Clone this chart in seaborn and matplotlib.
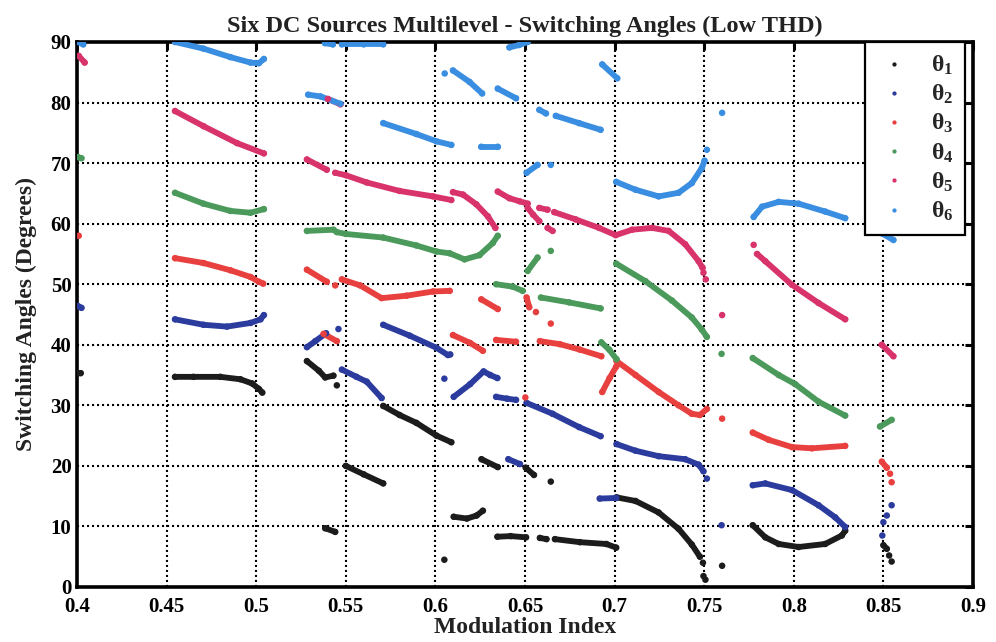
import matplotlib
matplotlib.use("Agg")
import matplotlib.pyplot as plt
import seaborn as sns
import pandas as pd

# Switching angles (degrees) versus modulation index, one list of traces per angle.
# Each trace is a run of solutions that the solver found next to each other.
theta1 = [
    [(0.4005, 35.3), (0.4020, 35.3)],
    [(0.4547, 34.7), (0.4650, 34.7), (0.4800, 34.7), (0.4912, 34.3), (0.4978, 33.6), (0.5015, 32.7), (0.5034, 32.1)],
    [(0.5283, 37.3), (0.5350, 35.7), (0.5385, 34.6), (0.5431, 34.9)],
    [(0.5450, 33.3)],
    [(0.5385, 9.7), (0.5441, 9.1)],
    [(0.5500, 20.0), (0.5600, 18.6), (0.5709, 17.1)],
    [(0.5709, 29.9), (0.5800, 28.4), (0.5894, 27.1), (0.6006, 25.0), (0.6089, 23.9)],
    [(0.6050, 4.5)],
    [(0.6102, 11.6), (0.6176, 11.3), (0.6230, 11.8), (0.6265, 12.6)],
    [(0.6257, 21.1), (0.6348, 19.8)],
    [(0.6504, 19.7), (0.6550, 18.5)],
    [(0.6644, 17.4)],
    [(0.6346, 8.3), (0.6420, 8.4), (0.6506, 8.2)],
    [(0.6583, 8.1), (0.6620, 7.9)],
    [(0.6667, 7.9), (0.6806, 7.4), (0.6954, 7.1), (0.7009, 6.5)],
    [(0.7011, 14.8), (0.7117, 14.2), (0.7246, 12.3), (0.7357, 9.6), (0.7431, 7.0), (0.7476, 5.0)],
    [(0.7493, 4.0)], [(0.7496, 1.8)], [(0.7507, 1.2)],
    [(0.7600, 3.5)],
    [(0.7771, 10.2), (0.7841, 8.2), (0.7916, 7.1), (0.8027, 6.6), (0.8175, 7.1), (0.8268, 8.5), (0.8287, 9.3)],
    [(0.8500, 6.9), (0.8519, 6.3)], [(0.8532, 5.2)], [(0.8546, 4.2)],
]

theta2 = [
    [(0.4005, 46.4), (0.4025, 46.1)],
    [(0.4547, 44.2), (0.4706, 43.3), (0.4837, 43.0), (0.4968, 43.6), (0.5024, 44.2), (0.5043, 44.9)],
    [(0.5283, 39.6), (0.5330, 40.6), (0.5390, 41.9)],
    [(0.5459, 42.6)],
    [(0.5478, 35.9), (0.5560, 34.7), (0.5617, 33.9), (0.5700, 31.2)],
    [(0.5709, 43.3), (0.5857, 41.5), (0.6006, 39.5), (0.6070, 38.3), (0.6083, 38.4)],
    [(0.6050, 34.4)],
    [(0.6102, 31.4), (0.6194, 33.5), (0.6269, 35.6), (0.6306, 35.0), (0.6346, 34.5)],
    [(0.6339, 31.4), (0.6400, 31.1), (0.6450, 30.9)],
    [(0.6407, 21.1), (0.6472, 20.3)],
    [(0.6509, 30.4), (0.6654, 28.6), (0.6802, 26.4), (0.6922, 24.9)],
    [(0.6917, 14.6), (0.7009, 14.7)],
    [(0.7011, 23.6), (0.7117, 22.5), (0.7246, 21.6), (0.7394, 21.1), (0.7469, 20.2), (0.7496, 19.1)],
    [(0.7515, 17.9)],
    [(0.7597, 10.2)],
    [(0.7771, 16.8), (0.7841, 17.1), (0.7990, 16.0), (0.8138, 13.5), (0.8231, 11.5), (0.8287, 9.9)],
    [(0.8494, 8.5)], [(0.8500, 10.7)], [(0.8519, 11.8)], [(0.8546, 13.5)],
]

theta3 = [
    [(0.4010, 58.0)],
    [(0.4547, 54.3), (0.4706, 53.5), (0.4856, 52.3), (0.4968, 51.2), (0.5015, 50.4), (0.5039, 50.1)],
    [(0.5283, 52.4), (0.5394, 50.4)],
    [(0.5441, 49.8)],
    [(0.5376, 41.8), (0.5450, 40.6)],
    [(0.5478, 50.8), (0.5580, 49.8), (0.5700, 47.7), (0.5839, 48.1), (0.5987, 48.8), (0.6080, 48.9)],
    [(0.6098, 41.6), (0.6194, 40.3), (0.6265, 39.0)],
    [(0.6256, 47.5), (0.6348, 45.9)],
    [(0.6339, 40.8), (0.6450, 40.5)],
    [(0.6502, 31.3)],
    [(0.6509, 47.8), (0.6524, 46.2)], [(0.6561, 45.4)], [(0.6644, 43.5)],
    [(0.6583, 40.6), (0.6694, 40.1), (0.6806, 39.2), (0.6926, 38.1)],
    [(0.6931, 32.2), (0.6972, 34.5), (0.7009, 36.4)],
    [(0.7011, 37.3), (0.7117, 35.0), (0.7246, 32.2), (0.7357, 30.0), (0.7431, 28.6), (0.7476, 28.4), (0.7515, 29.4)],
    [(0.7600, 27.8)],
    [(0.7771, 25.5), (0.7860, 24.3), (0.7990, 23.1), (0.8101, 22.9), (0.8287, 23.3)],
    [(0.8491, 20.7), (0.8519, 19.7)], [(0.8537, 18.7)], [(0.8546, 17.3)],
]

theta4 = [
    [(0.4005, 71.0), (0.4025, 70.8)],
    [(0.4547, 65.1), (0.4706, 63.3), (0.4856, 62.1), (0.4968, 61.8), (0.5043, 62.4)],
    [(0.5283, 58.8), (0.5431, 59.0), (0.5450, 58.6), (0.5500, 58.3), (0.5709, 57.7), (0.5894, 56.4),
     (0.6006, 55.4), (0.6080, 55.1), (0.6163, 54.1), (0.6246, 54.8), (0.6320, 56.8), (0.6348, 58.0)],
    [(0.6339, 50.0), (0.6431, 49.6), (0.6487, 48.9)],
    [(0.6515, 52.2), (0.6570, 54.4)],
    [(0.6644, 55.5)],
    [(0.6589, 47.8), (0.6746, 47.0), (0.6922, 46.0)],
    [(0.6926, 40.4), (0.6970, 39.2), (0.7011, 37.6)],
    [(0.7009, 53.4), (0.7172, 50.5), (0.7320, 47.3), (0.7431, 44.5), (0.7487, 42.5), (0.7515, 41.3)],
    [(0.7597, 38.5)],
    [(0.7771, 37.8), (0.7916, 35.0), (0.8008, 33.5), (0.8138, 30.6), (0.8287, 28.3)],
    [(0.8481, 26.5), (0.8546, 27.6)],
]

theta5 = [
    [(0.4010, 87.7), (0.4043, 86.6)],
    [(0.4547, 78.6), (0.4706, 76.1), (0.4893, 73.3), (0.5043, 71.6)],
    [(0.5283, 70.6), (0.5394, 68.9)],
    [(0.5400, 80.6), (0.5470, 79.7)],
    [(0.5441, 68.4), (0.5500, 68.0), (0.5617, 66.8), (0.5800, 65.4), (0.5987, 64.5), (0.6089, 63.9)],
    [(0.6098, 65.2), (0.6154, 64.8), (0.6228, 63.2), (0.6293, 61.2), (0.6335, 59.3)],
    [(0.6348, 65.3), (0.6413, 64.2), (0.6469, 63.7), (0.6515, 63.3)],
    [(0.6515, 62.6), (0.6545, 61.5), (0.6580, 60.4)],
    [(0.6580, 62.6), (0.6626, 62.3)],
    [(0.6626, 59.3), (0.6654, 58.8)],
    [(0.6663, 61.9), (0.6783, 60.7), (0.6913, 59.3), (0.7006, 58.1), (0.7098, 59.0), (0.7209, 59.3),
     (0.7302, 58.8), (0.7394, 56.6), (0.7469, 53.8), (0.7491, 52.7)],
    [(0.7496, 51.9)], [(0.7509, 50.8)],
    [(0.7600, 44.9)],
    [(0.7776, 56.5)],
    [(0.7795, 55.0), (0.7841, 53.8), (0.7990, 49.9), (0.8138, 46.9), (0.8287, 44.2)],
    [(0.8491, 40.0), (0.8556, 38.1)],
]

theta6 = [
    [(0.4005, 90.0), (0.4035, 89.6)],
    [(0.4547, 90.0), (0.4706, 88.9), (0.4856, 87.5), (0.4968, 86.6), (0.5015, 86.5), (0.5043, 87.2)],
    [(0.5290, 81.3), (0.5360, 81.0), (0.5470, 79.8)],
    [(0.5384, 89.8), (0.5428, 89.6)],
    [(0.5478, 89.6), (0.5600, 89.6), (0.5709, 89.6)],
    [(0.5709, 76.6), (0.5894, 74.8), (0.6006, 73.6), (0.6089, 73.0)],
    [(0.6052, 84.8)],
    [(0.6098, 85.3), (0.6191, 83.4), (0.6261, 81.5)],
    [(0.6256, 72.7), (0.6348, 72.7)],
    [(0.6348, 82.3), (0.6450, 80.7)],
    [(0.6413, 89.1), (0.6467, 89.5), (0.6515, 90.0)],
    [(0.6509, 68.4), (0.6570, 69.7)],
    [(0.6644, 69.7)],
    [(0.6580, 78.8), (0.6617, 78.2)],
    [(0.6672, 77.8), (0.6802, 76.6), (0.6922, 75.5)],
    [(0.6931, 86.3), (0.7015, 84.0)],
    [(0.7009, 66.9), (0.7117, 65.6), (0.7246, 64.5), (0.7357, 65.1), (0.7431, 66.7), (0.7487, 69.2), (0.7502, 70.4)],
    [(0.7515, 72.2)],
    [(0.7600, 78.3)],
    [(0.7776, 61.1), (0.7823, 62.8), (0.7916, 63.6), (0.8027, 63.3), (0.8175, 62.0), (0.8287, 60.9)],
    [(0.8491, 58.4), (0.8556, 57.3)],
]

series_labels = [r"$\theta_1$", r"$\theta_2$", r"$\theta_3$", r"$\theta_4$", r"$\theta_5$", r"$\theta_6$"]
series_colors = ["#1c1c1c", "#2b3c9e", "#e8403f", "#4b9a5b", "#d8336b", "#3a8ee2"]
x_ticks = [0.4, 0.45, 0.5, 0.55, 0.6, 0.65, 0.7, 0.75, 0.8, 0.85, 0.9]
x_tick_labels = ["0.4", "0.45", "0.5", "0.55", "0.6", "0.65", "0.7", "0.75", "0.8", "0.85", "0.9"]
y_ticks = [0, 10, 20, 30, 40, 50, 60, 70, 80, 90]

rows = []
for label, traces in zip(series_labels, [theta1, theta2, theta3, theta4, theta5, theta6]):
    for k, trace in enumerate(traces):
        for m, ang in trace:
            rows.append({"series": label, "trace": f"{label}-{k}", "m": m, "angle": ang})
df = pd.DataFrame(rows)

sns.set_theme(style="white")
plt.rcParams["font.family"] = ["Liberation Serif", "DejaVu Serif"]
plt.rcParams["font.weight"] = "bold"
plt.rcParams["mathtext.fontset"] = "custom"
plt.rcParams["mathtext.rm"] = "Liberation Serif:bold"
plt.rcParams["mathtext.it"] = "Liberation Serif:bold"
plt.rcParams["mathtext.bf"] = "Liberation Serif:bold"

fig = plt.figure(figsize=(9.96, 6.42), dpi=100)
ax = fig.add_axes([0.0773, 0.0857, 0.8996, 0.8489])

palette = dict(zip(series_labels, series_colors))

# traces drawn as thick round-capped strokes, every solution point as a dot on top
sns.lineplot(data=df, x="m", y="angle", hue="series", units="trace", estimator=None, sort=False,
             hue_order=series_labels, palette=palette, linewidth=4.2, solid_capstyle="round",
             solid_joinstyle="round", legend=False, ax=ax, zorder=3)
sns.scatterplot(data=df, x="m", y="angle", hue="series", hue_order=series_labels, palette=palette,
                s=22, linewidth=0, ax=ax, zorder=4)

ax.set_xlim(0.4, 0.9)
ax.set_ylim(0, 90)
ax.set_xticks(x_ticks)
ax.set_xticklabels(x_tick_labels)
ax.set_yticks(y_ticks)
ax.grid(True, color="black", linestyle=(0, (1.0, 1.4)), linewidth=1.5, zorder=1)
ax.set_axisbelow(True)
ax.tick_params(axis="both", which="major", direction="in", length=6, width=2.2,
               top=True, right=True, labelsize=15, colors="black")
ax.tick_params(axis="x", pad=7)
ax.tick_params(axis="y", pad=4)
for lab in ax.get_xticklabels() + ax.get_yticklabels():
    lab.set_fontweight("bold")
for side in ["left", "bottom", "top", "right"]:
    ax.spines[side].set_color("black")
    ax.spines[side].set_linewidth(2.6)

ax.set_xlabel("Modulation Index", fontsize=17, fontweight="bold", labelpad=0, color="#222222")
ax.set_ylabel("Switching Angles (Degrees)", fontsize=17, fontweight="bold", labelpad=10, color="#222222")
ax.set_title("Six DC Sources Multilevel - Switching Angles (Low THD)", fontsize=17.5,
             fontweight="bold", pad=7, color="#222222")

handles, labels = ax.get_legend_handles_labels()
leg = ax.legend(handles, labels, loc="upper right", bbox_to_anchor=(0.991, 1.0), borderaxespad=0,
                fontsize=17, frameon=True, fancybox=False, framealpha=1, edgecolor="black",
                markerscale=0.65, handlelength=1.5, handletextpad=0.8, labelspacing=0.25,
                borderpad=0.5)
leg.get_frame().set_linewidth(1.6)
leg.set_zorder(10)

fig.savefig("out.png", dpi=100)
